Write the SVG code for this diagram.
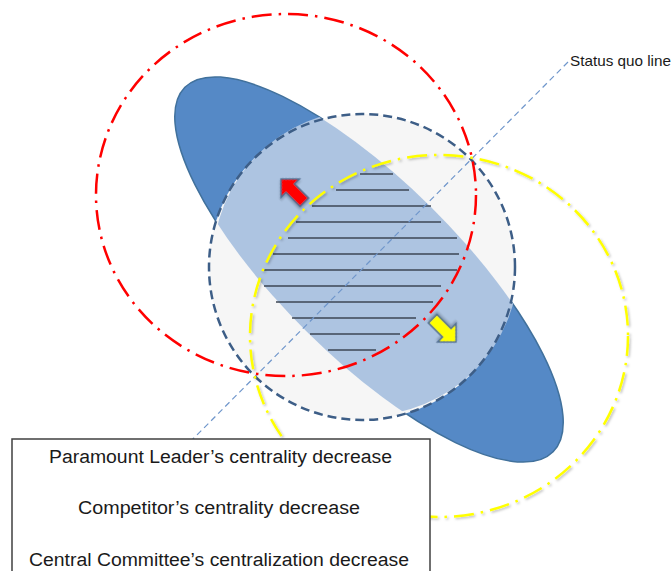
<svg xmlns="http://www.w3.org/2000/svg" width="672" height="571" viewBox="0 0 672 571">
<defs>
<clipPath id="clipCircle"><circle cx="362" cy="267" r="153"/></clipPath>
<filter id="soft" x="-10%" y="-10%" width="120%" height="120%"><feDropShadow dx="1.5" dy="1.5" stdDeviation="1" flood-color="#000" flood-opacity="0.25"/></filter>
<path id="blockArrow" d="M0,0 L13,-13 L13,-6 L33,-6 L33,6 L13,6 L13,13 Z"/>
</defs>
<style>
.lbl{font-family:"Liberation Sans",Arial,sans-serif;fill:#1a1a1a;}
.hatch line{stroke:#3C4653;stroke-width:1.6;}
.dashdot{fill:none;stroke-width:2.5;stroke-dasharray:20 7 2.5 7;}
.arrow{stroke:#4F6D8F;stroke-width:1.5;stroke-linejoin:miter;}
</style>
<rect width="672" height="571" fill="#ffffff"/>

<g id="policy-space">
<ellipse cx="369" cy="269.5" rx="259" ry="88" transform="rotate(44.7 369 269.5)" fill="#5589C6" stroke="#41719C" stroke-width="1.5"/>
<circle cx="362" cy="267" r="153" fill="#F6F6F6"/>
<ellipse cx="369" cy="269.5" rx="259" ry="88" transform="rotate(44.7 369 269.5)" fill="#ADC4E1" clip-path="url(#clipCircle)"/>
<circle cx="362" cy="267" r="153" fill="none" stroke="#3D5E87" stroke-width="2.5" stroke-dasharray="9 5"/>
</g>

<g id="hatching" class="hatch">
<line x1="360" y1="174" x2="393" y2="174"/>
<line x1="336" y1="190" x2="409" y2="190"/>
<line x1="312" y1="206" x2="431" y2="206"/>
<line x1="296" y1="222" x2="441" y2="222"/>
<line x1="288" y1="238" x2="457" y2="238"/>
<line x1="273" y1="254" x2="459" y2="254"/>
<line x1="264" y1="270" x2="457" y2="270"/>
<line x1="264" y1="286" x2="441" y2="286"/>
<line x1="276" y1="302" x2="433" y2="302"/>
<line x1="292" y1="318" x2="416" y2="318"/>
<line x1="310" y1="334" x2="400" y2="334"/>
<line x1="328" y1="350" x2="376" y2="350"/>
</g>

<g id="connectors">
<line x1="568" y1="62" x2="180" y2="452" stroke="#6F96CB" stroke-width="1.2" stroke-dasharray="6 4"/>
</g>

<g id="red-circle">
<ellipse class="dashdot" cx="286" cy="195" rx="190" ry="181" stroke="#FF0000"/>
</g>
<g id="yellow-circle">
<ellipse class="dashdot" cx="439" cy="336" rx="189" ry="181" stroke="#FFFF00" stroke-width="3" filter="url(#soft)"/>
</g>

<g id="red-arrow">
<use href="#blockArrow" class="arrow" fill="#FF0000" transform="translate(281 179) rotate(45)" filter="url(#soft)"/>
</g>
<g id="yellow-arrow">
<use href="#blockArrow" class="arrow" fill="#FFFF00" transform="translate(456 342) rotate(225)" filter="url(#soft)"/>
</g>

<g id="status-quo-label">
<text class="lbl" x="570" y="66" font-size="14.5" textLength="101" lengthAdjust="spacingAndGlyphs">Status quo line</text>
</g>

<g id="legend">
<rect x="12" y="439" width="418" height="150" fill="#ffffff" stroke="#404040" stroke-width="1.5"/>
<text class="lbl" x="49" y="463" font-size="18" textLength="343" lengthAdjust="spacingAndGlyphs">Paramount  Leader’s centrality decrease</text>
<text class="lbl" x="78" y="514" font-size="18" textLength="282" lengthAdjust="spacingAndGlyphs">Competitor’s  centrality decrease</text>
<text class="lbl" x="29" y="566" font-size="18" textLength="380" lengthAdjust="spacingAndGlyphs">Central Committee’s  centralization decrease</text>
</g>
</svg>
